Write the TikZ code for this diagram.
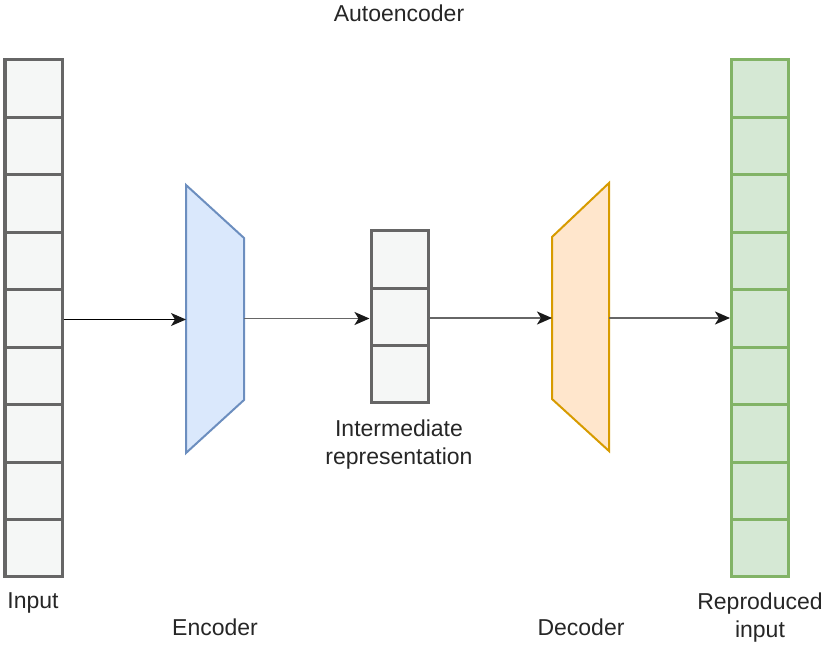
\documentclass[tikz,border=0pt]{standalone}
\usepackage{fontspec}
\setmainfont{Liberation Sans}
\usetikzlibrary{arrows.meta}
\definecolor{cellgray}{HTML}{666666}
\definecolor{cellfill}{HTML}{F5F7F6}
\definecolor{encfill}{HTML}{DAE8FC}
\definecolor{encline}{HTML}{6C8EBF}
\definecolor{decfill}{HTML}{FFE6CC}
\definecolor{decline}{HTML}{D79B00}
\definecolor{outfill}{HTML}{D5E8D4}
\definecolor{outline}{HTML}{82B366}
\tikzset{
  cell/.style={draw=cellgray, fill=cellfill, line width=1.5pt, minimum width=28.5pt, minimum height=28.72pt, inner sep=0pt},
  ocell/.style={cell, draw=outline, fill=outfill},
  mcell/.style={cell, minimum height=28.67pt},
  lbl/.style={font=\fontsize{11.5pt}{14pt}\selectfont, align=center, inner sep=0pt, text=black!85},
  conn/.style={-{Stealth[length=7.5pt,width=6.5pt,inset=2pt,color=black!90]}, line width=0.9pt, draw=cellgray},
  connb/.style={conn, draw=black, line width=0.6pt}
}
\begin{document}
\begin{tikzpicture}[x=0.5pt,y=-0.5pt]
\useasboundingbox (0,0) rectangle (827,646);
% input column
\foreach \i in {1,...,9} {
  \node[cell] (in\i) at (33.5, {60+57.44*(\i-0.5)}) {};
}
% output column
\foreach \i in {1,...,9} {
  \node[ocell] (out\i) at (760, {60+57.44*(\i-0.5)}) {};
}
% intermediate
\foreach \i in {1,2,3} {
  \node[mcell] (mid\i) at (399.5, {231+57.33*(\i-0.5)}) {};
}
% encoder
\draw[fill=encfill, draw=encline, line width=1pt] (186,185) -- (244,238) -- (244,400) -- (186,453) -- cycle;
\coordinate (encL) at (186,319.5);
\coordinate (encR) at (244,318.5);
% decoder
\draw[fill=decfill, draw=decline, line width=1pt] (552,237) -- (609,183) -- (609,451) -- (552,399) -- cycle;
\coordinate (decL) at (552,318);
\coordinate (decR) at (609,318);
% connectors
\draw[connb] (in5.east |- encL) -- (encL);
\draw[conn] (encR) -- (encR -| mid2.west);
\draw[conn] (mid2.east |- decL) -- (decL);
\draw[conn] (decR) -- (decR -| out5.west);
% labels
\node[lbl] (title) at (399,13) {Autoencoder};
\node[lbl] (linput) at (33,603) {Input};
\node[lbl] (lenc) at (215,627) {Encoder};
\node[lbl] (lmid) at (399,445) {Intermediate\\representation};
\node[lbl] (ldec) at (581,627) {Decoder};
\node[lbl] (lout) at (760,618) {Reproduced\\input};
\end{tikzpicture}
\end{document}
